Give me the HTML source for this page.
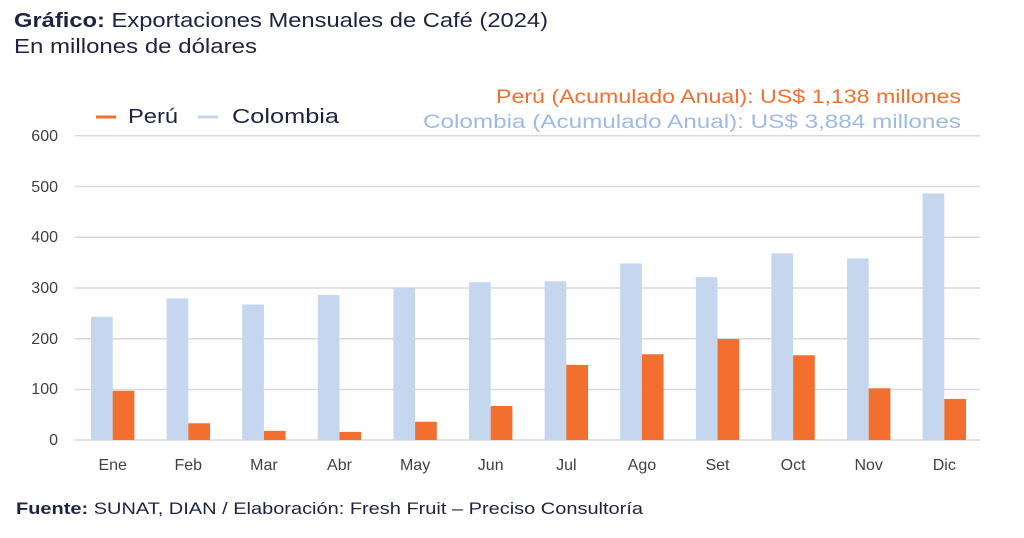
<!DOCTYPE html>
<html><head><meta charset="utf-8"><style>
body{margin:0;background:#fff;width:1024px;height:533px;overflow:hidden;font-family:"Liberation Sans",sans-serif}
</style></head><body>
<svg width="1024" height="533" xmlns="http://www.w3.org/2000/svg" font-family="Liberation Sans, sans-serif">
<text x="14" y="27" font-size="20" fill="#1f2340" textLength="534" lengthAdjust="spacingAndGlyphs"><tspan font-weight="bold">Gráfico:</tspan> Exportaciones Mensuales de Café (2024)</text>
<text x="14" y="53" font-size="20" fill="#1f2340" textLength="243" lengthAdjust="spacingAndGlyphs">En millones de dólares</text>
<line x1="96" y1="117" x2="116" y2="117" stroke="#f26f30" stroke-width="3"/>
<text x="128" y="123" font-size="20" fill="#1f2340" textLength="50" lengthAdjust="spacingAndGlyphs">Perú</text>
<line x1="198" y1="117" x2="218" y2="117" stroke="#c5d7ee" stroke-width="3"/>
<text x="232" y="123" font-size="20" fill="#1f2340" textLength="107" lengthAdjust="spacingAndGlyphs">Colombia</text>
<text x="496" y="103" font-size="19" fill="#f26f30" textLength="465" lengthAdjust="spacingAndGlyphs">Perú (Acumulado Anual): US$ 1,138 millones</text>
<text x="423" y="128" font-size="19" fill="#9dbbe3" textLength="538" lengthAdjust="spacingAndGlyphs">Colombia (Acumulado Anual): US$ 3,884 millones</text>
<g stroke="#d9d9d9" stroke-width="1.5">
<line x1="75" y1="135.7" x2="980" y2="135.7"/><line x1="75" y1="186.5" x2="980" y2="186.5"/>
<line x1="75" y1="237.3" x2="980" y2="237.3"/><line x1="75" y1="288" x2="980" y2="288"/>
<line x1="75" y1="338.8" x2="980" y2="338.8"/><line x1="75" y1="389.5" x2="980" y2="389.5"/>
<line x1="75" y1="440" x2="980" y2="440"/></g>
<g font-size="16" fill="#404040" text-anchor="end">
<text x="58" y="141">600</text><text x="58" y="192">500</text><text x="58" y="242">400</text>
<text x="58" y="293">300</text><text x="58" y="344">200</text><text x="58" y="394">100</text><text x="58" y="445">0</text></g>
<g id="bars"></g>
<text x="16" y="514" font-size="17" fill="#1f2340" textLength="627" lengthAdjust="spacingAndGlyphs"><tspan font-weight="bold">Fuente:</tspan> SUNAT, DIAN / Elaboración: Fresh Fruit – Preciso Consultoría</text>
</svg>
<script>
const m=["Ene","Feb","Mar","Abr","May","Jun","Jul","Ago","Set","Oct","Nov","Dic"];
const c=[243,279,267,286,300,311,313,348,321,368,358,486];
const p=[97,33,18,16,36,67,148,169,199,167,102,81];
const g=document.getElementById("bars");let h="";
const k=0.5073;
for(let i=0;i<12;i++){const x=91+i*75.6;
h+=`<rect x="${x}" y="${440-c[i]*k}" width="21.7" height="${c[i]*k}" fill="#c5d7ee"/>`;
h+=`<rect x="${x+21.7}" y="${440-p[i]*k}" width="21.7" height="${p[i]*k}" fill="#f26f30"/>`;
h+=`<text x="${x+21.7}" y="470" font-size="16" fill="#404040" text-anchor="middle">${m[i]}</text>`;}
g.innerHTML=h;
</script>
</body></html>
